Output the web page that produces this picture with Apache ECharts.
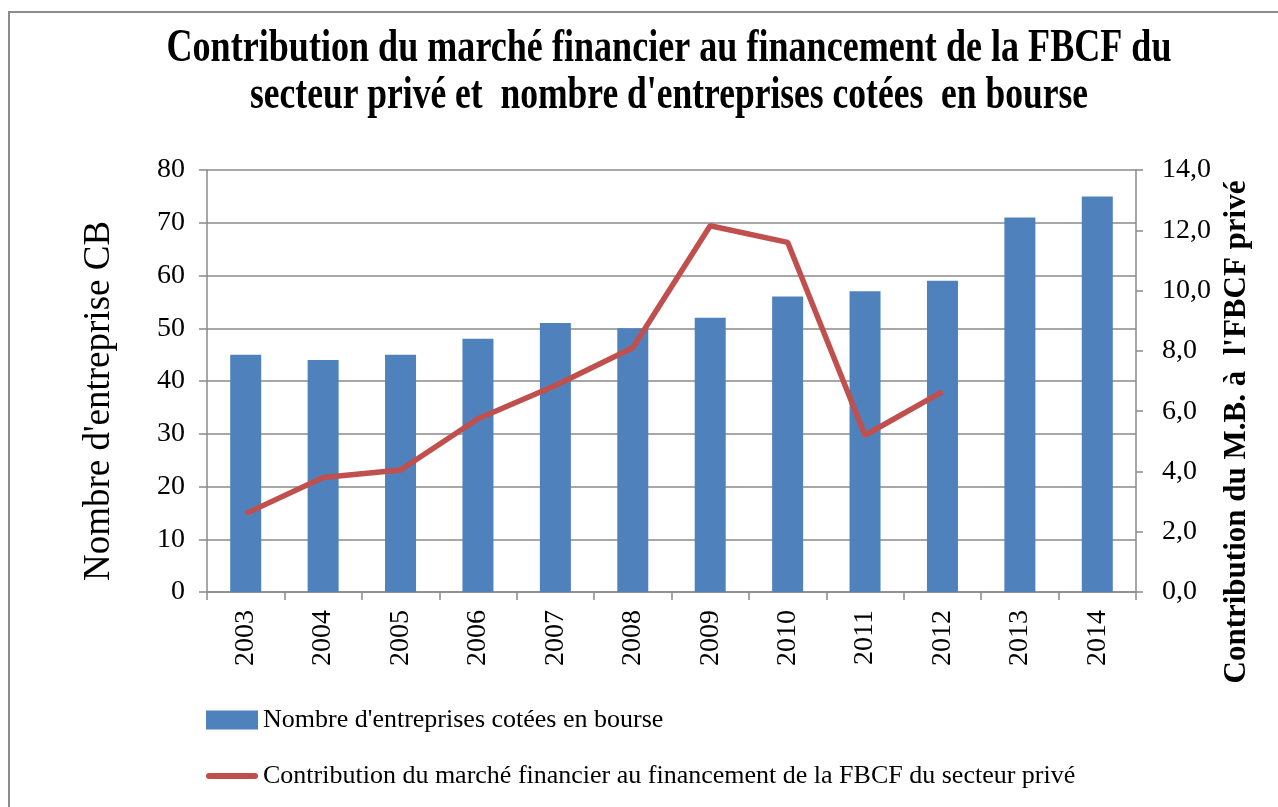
<!DOCTYPE html>
<html>
<head>
<meta charset="utf-8">
<script src="https://cdn.jsdelivr.net/npm/echarts@6/dist/echarts.min.js"></script>
<style>
  html, body { margin: 0; padding: 0; background: #fff; }
  #main { width: 1278px; height: 807px; }
</style>
</head>
<body>
<div id="main"></div>
<script>
// data
var years = ['2003', '2004', '2005', '2006', '2007', '2008', '2009', '2010', '2011', '2012', '2013', '2014'];
var nbEntreprises = [45, 44, 45, 48, 51, 50, 52, 56, 57, 59, 71, 75];
var contribution = [2.6, 3.8, 4.05, 5.75, 6.85, 8.1, 12.15, 11.6, 5.2, 6.65, null, null];
var leftTicks = { min: 0, max: 80, interval: 10 };
var rightTicks = { min: 0, max: 14, interval: 2 };

var titleLines = [
  'Contribution du marché financier au financement de la FBCF du',
  "secteur privé et  nombre d'entreprises cotées  en bourse"
];
var serieNames = [
  "Nombre d'entreprises cotées en bourse",
  'Contribution du marché financier au financement de la FBCF du secteur privé'
];

var serif = "'Liberation Serif', 'Times New Roman', serif";
var gridColor = '#8a8a8a';

// the original title font is condensed: squeeze it to the same width
function squeeze(text, font, target) {
  var ctx = document.createElement('canvas').getContext('2d');
  ctx.font = font;
  return target / ctx.measureText(text).width;
}
var titleFont = 'bold 46px ' + serif;
var s1 = squeeze(titleLines[0], titleFont, 1005);
var s2 = squeeze(titleLines[1], titleFont, 838);

var chart = echarts.init(document.getElementById('main'));

var option = {
  animation: false,
  backgroundColor: '#fff',
  graphic: [
    {
      type: 'rect', shape: { x: 9, y: 12, width: 1300, height: 820 },
      style: { fill: 'none', stroke: '#8c8c8c', lineWidth: 2 }
    },
    {
      type: 'text', x: 669, y: 49, scaleX: s1,
      style: { text: titleLines[0], font: titleFont, fill: '#000', textAlign: 'center', textVerticalAlign: 'middle' }
    },
    {
      type: 'text', x: 669, y: 96, scaleX: s2,
      style: { text: titleLines[1], font: titleFont, fill: '#000', textAlign: 'center', textVerticalAlign: 'middle' }
    }
  ],
  legend: {
    orient: 'vertical',
    left: 206,
    top: 707,
    padding: 0,
    itemWidth: 52,
    itemHeight: 19,
    itemGap: 30,
    textStyle: { fontFamily: serif, fontSize: 26, color: '#000', lineHeight: 26 },
    data: [
      { name: serieNames[0], icon: 'rect' },
      { name: serieNames[1], icon: 'path://M3,0 H49 A3,3 0 0 1 49,6 H3 A3,3 0 0 1 3,0 Z' }
    ]
  },
  grid: { left: 207, right: 142, top: 170, bottom: 215 },
  xAxis: {
    type: 'category',
    data: years,
    axisLine: { lineStyle: { color: gridColor, width: 1.5 } },
    axisTick: { show: true, length: 8, lineStyle: { color: gridColor, width: 1.5 } },
    axisLabel: { rotate: 90, margin: 18, fontFamily: serif, fontSize: 28, color: '#000' }
  },
  yAxis: [
    {
      type: 'value',
      min: leftTicks.min, max: leftTicks.max, interval: leftTicks.interval,
      name: "Nombre d'entreprise CB",
      nameLocation: 'middle',
      nameRotate: 90,
      nameGap: 89,
      nameTextStyle: { fontFamily: serif, fontSize: 37, color: '#000', padding: [0, 40, 0, 0] },
      axisLine: { show: true, lineStyle: { color: gridColor, width: 1.5 } },
      axisTick: { show: true, length: 8, lineStyle: { color: gridColor, width: 1.5 } },
      axisLabel: { margin: 22, fontFamily: serif, fontSize: 28, color: '#000' },
      splitLine: { lineStyle: { color: gridColor, width: 1.5 } }
    },
    {
      type: 'value',
      position: 'right',
      min: rightTicks.min, max: rightTicks.max, interval: rightTicks.interval,
      name: "Contribution du M.B. à  l'FBCF privé",
      nameLocation: 'middle',
      nameRotate: 90,
      nameGap: 80,
      nameTextStyle: { fontFamily: serif, fontSize: 31, fontWeight: 'bold', color: '#000', padding: [0, 102, 0, 0] },
      axisLine: { show: true, lineStyle: { color: gridColor, width: 1.5 } },
      axisTick: { show: true, length: 7, lineStyle: { color: gridColor, width: 1.5 } },
      axisLabel: {
        margin: 26, fontFamily: serif, fontSize: 28, color: '#000',
        formatter: function (v) { return v.toFixed(1).replace('.', ','); }
      },
      splitLine: { show: false }
    }
  ],
  series: [
    {
      name: serieNames[0],
      type: 'bar',
      yAxisIndex: 0,
      barWidth: 31,
      itemStyle: { color: '#4F81BD' },
      data: nbEntreprises
    },
    {
      name: serieNames[1],
      type: 'line',
      yAxisIndex: 1,
      symbol: 'none',
      connectNulls: false,
      lineStyle: { color: '#C0504D', width: 5.5 },
      itemStyle: { color: '#C0504D' },
      data: contribution
    }
  ]
};

chart.setOption(option);
</script>
</body>
</html>
